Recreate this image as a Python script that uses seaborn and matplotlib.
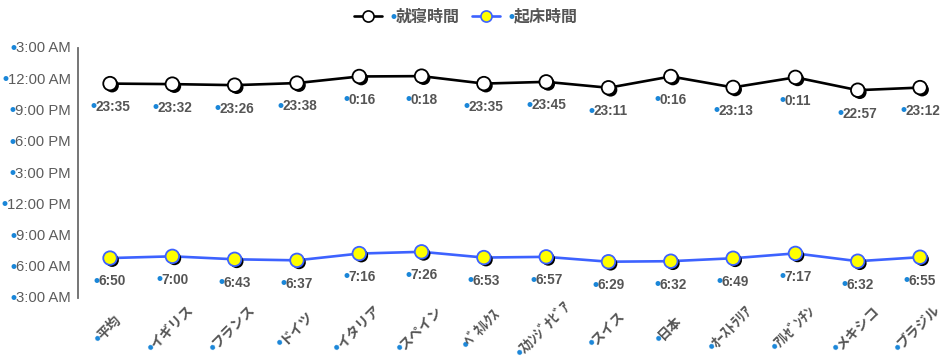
import math

import matplotlib
matplotlib.use("Agg")
import matplotlib.pyplot as plt
import matplotlib.patheffects as pe
from matplotlib.lines import Line2D
from matplotlib.transforms import offset_copy, blended_transform_factory
import pandas as pd
import seaborn as sns

# ---------------------------------------------------------------- data
countries = ["平均", "イギリス", "フランス", "ドイツ", "イタリア", "スペイン",
             "ﾍﾞﾈﾙｸｽ", "ｽｶﾝｼﾞﾅﾋﾞｱ", "スイス", "日本", "ｵｰｽﾄﾗﾘｱ",
             "ｱﾙｾﾞﾝﾁﾝ", "メキシコ", "ブラジル"]
bedtime = ["23:35", "23:32", "23:26", "23:38", "0:16", "0:18", "23:35",
           "23:45", "23:11", "0:16", "23:13", "0:11", "22:57", "23:12"]
waketime = ["6:50", "7:00", "6:43", "6:37", "7:16", "7:26", "6:53",
            "6:57", "6:29", "6:32", "6:49", "7:17", "6:32", "6:55"]
series_names = ["就寝時間", "起床時間"]
tick_hours = [0, 3, 6, 9, 12, 15, 18, 21, 24]
tick_labels = ["3:00 AM", "6:00 AM", "9:00 AM", "12:00 PM", "3:00 PM",
               "6:00 PM", "9:00 PM", "12:00 AM", "3:00 AM"]


def hours_after_3am(t):
    """Clock time 'H:MM' -> hours elapsed since 3:00 AM (axis runs 3AM..3AM)."""
    h, m = map(int, t.split(":"))
    return (h + m / 60.0 - 3.0) % 24.0


n = len(countries)
df = pd.DataFrame({
    "idx": list(range(n)) * 2,
    "hours": [hours_after_3am(t) for t in bedtime + waketime],
    "label": bedtime + waketime,
    "series": [series_names[0]] * n + [series_names[1]] * n,
})

# ---------------------------------------------------------------- style
GRAY = "#555555"
TICK_GRAY = "#5c5c5c"
DOT_BLUE = "#1a86d8"
LINE_BLUE = "#3d62ff"
line_colors = {series_names[0]: "black", series_names[1]: LINE_BLUE}
face_colors = {series_names[0]: "white", series_names[1]: "#ffff00"}
edge_colors = {series_names[0]: "black", series_names[1]: LINE_BLUE}

sns.set_theme(style="white")
plt.rcParams["font.family"] = ["Liberation Sans", "Noto Sans CJK JP", "DejaVu Sans"]

W, H = 943, 358
fig = plt.figure(figsize=(W / 100, H / 100), dpi=100)
ax = fig.add_axes([78 / W, 1 - 298 / H, (935 - 78) / W, 250 / H])

# ---------------------------------------------------------------- marks
sns.lineplot(data=df, x="idx", y="hours", hue="series", palette=line_colors,
             linewidth=1.9, sort=False, legend=False, ax=ax, zorder=2)

shadow = [pe.SimplePatchShadow(offset=(1.5, -1.5), shadow_rgbFace="black", alpha=1.0),
          pe.Normal()]
for name in series_names:
    sub = df[df["series"] == name]
    sns.scatterplot(data=sub, x="idx", y="hours", color=face_colors[name],
                    edgecolor=edge_colors[name], linewidth=1.3, s=95,
                    legend=False, ax=ax, zorder=3)
    ax.collections[-1].set_path_effects(shadow)

# ---------------------------------------------------------------- axes
ax.set_xlim(-0.514, 13.24)
ax.set_ylim(0, 24)
ax.set_xticks(range(n), labels=[""] * n)
ax.set_yticks(tick_hours, labels=[""] * len(tick_hours))
ax.tick_params(axis="x", length=0)
ax.tick_params(axis="y", length=4.5, width=1.2, color="#6a6a6a", direction="out")
for side in ("top", "right", "bottom"):
    ax.spines[side].set_visible(False)
ax.spines["left"].set_color("#6a6a6a")
ax.spines["left"].set_linewidth(1.3)
ax.set_xlabel("")
ax.set_ylabel("")
ax.grid(False)

renderer = fig.canvas.get_renderer()
DOT_SIZE = 12.5


def text_width(s, size, weight):
    t = fig.text(0, 0, s, fontsize=size, fontweight=weight)
    w = t.get_window_extent(renderer=renderer).width
    t.remove()
    return w


def bullet_text(x, y, trans, s, dx=0.0, dy=0.0, size=10, weight="bold",
                color=GRAY, angle=0.0, align="center", mid=4.5, gap=-1.0):
    """Text prefixed with a blue bullet; (dx, dy) pixel offset of its visual anchor."""
    w_dot = text_width("•0", DOT_SIZE, "bold") - text_width("0", DOT_SIZE, "bold") + gap
    w_txt = text_width(s, size, weight)
    w = w_dot + w_txt
    a = math.radians(angle)
    ux, uy = math.cos(a), math.sin(a)
    nx, ny = -math.sin(a), math.cos(a)
    shift = {"center": -w / 2, "right": -w, "left": 0.0}[align]
    ox = dx + shift * ux - mid * nx
    oy = dy + shift * uy - mid * ny
    common = dict(ha="left", va="baseline", rotation=angle,
                  rotation_mode="anchor", clip_on=False)
    ax.text(x, y, "•", color=DOT_BLUE, fontsize=DOT_SIZE, fontweight="bold",
            transform=offset_copy(trans, fig=fig, x=ox - 0.5 * nx,
                                  y=oy - 0.5 * ny, units="dots"),
            **common)
    ax.text(x, y, s, color=color, fontsize=size, fontweight=weight,
            transform=offset_copy(trans, fig=fig, x=ox + w_dot * ux,
                                  y=oy + w_dot * uy, units="dots"),
            **common)


# value labels under every point
for _, row in df.iterrows():
    bullet_text(row["idx"], row["hours"], ax.transData, row["label"],
                dy=-22.5, size=9.8, mid=4.9)

# y tick labels
ytrans = blended_transform_factory(ax.transAxes, ax.transData)
for h, lab in zip(tick_hours, tick_labels):
    bullet_text(0, h, ytrans, lab, dx=-7.5, size=10.7, weight="normal",
                color=TICK_GRAY, align="right", mid=4.5)

# rotated category labels (half-width katakana drawn a little larger)
xtrans = blended_transform_factory(ax.transData, ax.transAxes)
for i, name in enumerate(countries):
    halfwidth = all("\uff61" <= ch <= "\uff9f" for ch in name)
    bullet_text(i, 0, xtrans, name, dx=-3, dy=-30.5,
                size=10.6 if halfwidth else 9.8,
                angle=45, mid=5.1 if halfwidth else 5.0)

# ---------------------------------------------------------------- legend
handles = [
    Line2D([], [], color=line_colors[nm], lw=1.9, marker="o", markersize=8,
           markerfacecolor=face_colors[nm], markeredgecolor=edge_colors[nm],
           markeredgewidth=1.2)
    for nm in series_names
]
leg = fig.legend(handles, series_names, loc="center",
                 bbox_to_anchor=(466 / W, 1 - 17 / H), ncol=2, frameon=False,
                 prop={"size": 11.5, "weight": "bold"}, labelcolor=GRAY,
                 handlelength=1.75, handletextpad=0.85, columnspacing=0.75,
                 borderpad=0, borderaxespad=0)

fig.canvas.draw()
for t in leg.get_texts():
    px, py = t.get_transform().transform(t.get_position())
    fig.text((px + 0.5) / W, (py - 0.5) / H, "•", ha="right", va="baseline",
             fontsize=DOT_SIZE, fontweight="bold", color=DOT_BLUE, zorder=5)

fig.savefig("out.png", dpi=100)
